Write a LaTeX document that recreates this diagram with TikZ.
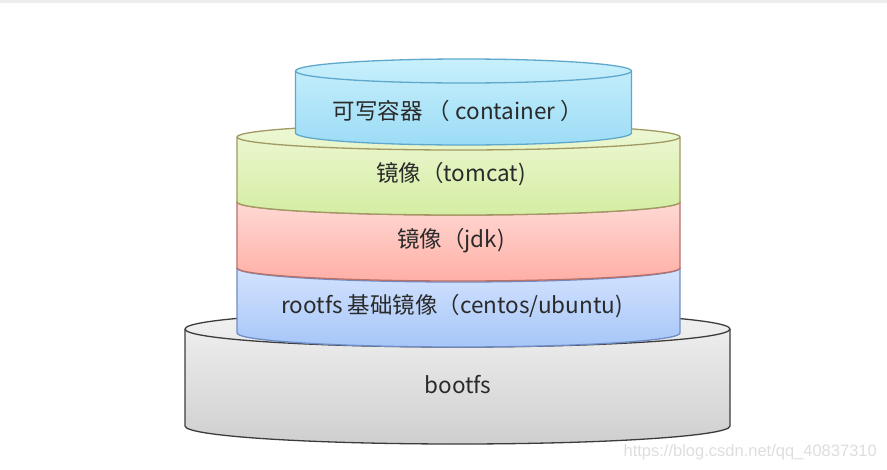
\documentclass[tikz,border=0pt]{standalone}
\usepackage{fontspec}
\newfontfamily\cjk{Noto Sans CJK SC}
\newfontfamily\wmfont{Liberation Sans}
\definecolor{txt}{HTML}{2A2A2A}
\definecolor{cT}{HTML}{C8F0FC}\definecolor{cB}{HTML}{9CDCF6}\definecolor{cD}{HTML}{5FA8CC}
\definecolor{gT}{HTML}{EEF8D6}\definecolor{gB}{HTML}{D4EDA2}\definecolor{gD}{HTML}{A09A62}
\definecolor{rT}{HTML}{FFE0DC}\definecolor{rB}{HTML}{FFAFA6}\definecolor{rD}{HTML}{B8706A}
\definecolor{bT}{HTML}{DCE8FF}\definecolor{bB}{HTML}{A6C6F8}\definecolor{bD}{HTML}{6F8CC4}
\definecolor{yT}{HTML}{F2F2F2}\definecolor{yB}{HTML}{CFCFCF}\definecolor{yD}{HTML}{3C3C3C}
\tikzset{
  lbl/.style={font=\cjk\fontsize{22.5}{26}\selectfont, text=txt, inner sep=0pt},
}
% cylinder: #1 cx, #2 rx, #3 ytop, #4 ybot, #5 ry, #6 top col, #7 bottom col, #8 draw col
\newcommand{\mycyl}[8]{%
  \path[top color=#6, bottom color=#7, draw=#8, line width=1.3pt]
    (#1-#2,#3) -- (#1-#2,#4) arc[start angle=180,end angle=360,x radius=#2pt,y radius=#5pt]
    -- (#1+#2,#3) arc[start angle=0,end angle=180,x radius=#2pt,y radius=#5pt] -- cycle;
  \draw[draw=#8, line width=1.3pt] (#1-#2,#3) arc[start angle=180,end angle=360,x radius=#2pt,y radius=#5pt];
}
\begin{document}
\begin{tikzpicture}[x=1pt,y=-1pt]
\useasboundingbox (0,0) rectangle (887,469);
\fill[white] (0,0) rectangle (887,469);
\fill[black!7] (0,0) rectangle (887,3);
\mycyl{457.5}{272.5}{329}{426}{18}{yT}{yB}{yD}
\mycyl{458.5}{221.5}{268}{333}{14}{bT}{bB}{bD}
\mycyl{458.5}{221.5}{202}{268}{13}{rT}{rB}{rD}
\mycyl{458.5}{221.5}{137}{202}{13}{gT}{gB}{gD}
\mycyl{463.5}{168}{71}{133}{12}{cT}{cB}{cD}
\node[lbl] (tc) at (458,111) {可写容器 （ container ）};
\node[lbl] (tt) at (451,174) {镜像（tomcat)};
\node[lbl] (tj) at (451,241) {镜像（jdk)};
\node[lbl] (tr) at (452,306) {rootfs 基础镜像（centos/ubuntu)};
\node[lbl] (tb) at (458,385) {bootfs};
\node[font=\wmfont\fontsize{16.5}{19}\selectfont, text=black!13, anchor=east, inner sep=0pt] (wm) at (877,452) {https://blog.csdn.net/qq\_40837310};
\end{tikzpicture}
\end{document}
